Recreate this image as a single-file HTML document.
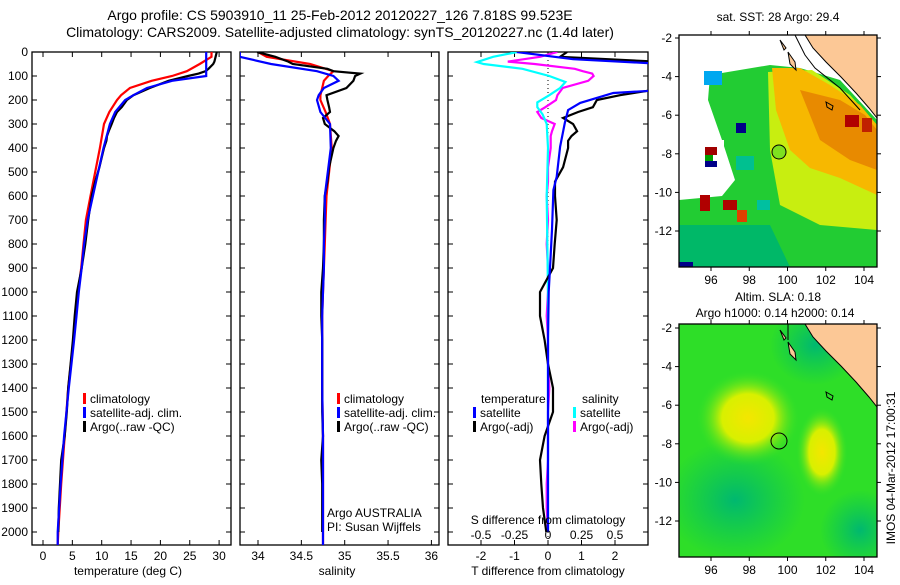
<!DOCTYPE html>
<html><head><meta charset="utf-8">
<style>
body{margin:0;background:#fff;}
svg text{font-family:"Liberation Sans",sans-serif;fill:#000;}
</style></head>
<body>
<svg id="fig" width="900" height="580" viewBox="0 0 900 580" xmlns="http://www.w3.org/2000/svg">
<rect x="0" y="0" width="900" height="580" fill="#fff"/>
<text x="340" y="20" font-size="14" text-anchor="middle">Argo profile: CS 5903910_11 25-Feb-2012 20120227_126 7.818S 99.523E</text>
<text x="340" y="37" font-size="14" text-anchor="middle">Climatology: CARS2009. Satellite-adjusted climatology: synTS_20120227.nc (1.4d later)</text>

<g id="p1"></g>
<g id="p2"></g>
<g id="p3"></g>

<!-- SST map -->
<g>
<text x="778" y="21" font-size="12" text-anchor="middle">sat. SST: 28 Argo: 29.4</text>
<clipPath id="c1"><rect x="679" y="35" width="198" height="232"/></clipPath>
<g clip-path="url(#c1)">
<rect x="679" y="35" width="198" height="232" fill="#fff"/>
<polygon fill="#22cc33" points="710,75 770,65 800,68 840,80 877,120 877,267 679,267 679,200 722,196 735,180 722,140 708,100"/>
<polygon fill="#00b868" points="679,225 770,225 790,267 679,267"/>
<polygon fill="#c8ee10" points="768,72 812,70 850,95 877,125 877,230 820,225 780,205 770,150"/>
<polygon fill="#f7b800" points="772,68 800,68 830,85 860,105 877,125 877,195 840,178 810,168 790,150 776,110"/>
<polygon fill="#e88a00" points="800,90 840,100 865,115 877,130 877,170 850,160 820,140"/>
<rect x="845" y="115" width="14" height="12" fill="#b00000"/>
<rect x="862" y="118" width="10" height="14" fill="#c02000"/>
<rect x="710" y="140" width="14" height="14" fill="#fff"/>
<rect x="704" y="71" width="18" height="14" fill="#00a8f0"/>
<rect x="705" y="147" width="12" height="8" fill="#a00000"/>
<rect x="705" y="155" width="8" height="10" fill="#00a000"/>
<rect x="705" y="161" width="12" height="6" fill="#000088"/>
<rect x="736" y="156" width="18" height="14" fill="#00c090"/>
<rect x="736" y="123" width="10" height="10" fill="#000088"/>
<rect x="700" y="195" width="10" height="16" fill="#b00000"/>
<rect x="723" y="200" width="14" height="10" fill="#b00000"/>
<rect x="737" y="210" width="10" height="12" fill="#e04000"/>
<rect x="679" y="262" width="14" height="5" fill="#000088"/>
<rect x="757" y="200" width="13" height="10" fill="#00c0a0"/>
<polygon fill="#fcc896" points="805,35 813,48 826,62 841,77 856,93 869,108 877,118 877,35"/>
<polyline fill="none" stroke="#000" stroke-width="1" points="805,35 813,48 826,62 841,77 856,93 869,108 877,118"/>
<polyline fill="none" stroke="#000" stroke-width="1" points="795,35 805,55 815,68 840,88 860,110"/>
<polygon fill="#fcc896" stroke="#000" points="780,40 786,48 784,50"/>
<polygon fill="#fcc896" stroke="#000" points="788,52 795,62 796,70 790,64"/>
<polygon fill="none" stroke="#000" points="826,102 833,106 832,110 827,107"/>
<circle cx="779" cy="152" r="7" fill="#7ee020" stroke="#000" stroke-width="1"/>
</g>
<rect x="679" y="35" width="198" height="232" fill="none" stroke="#000" stroke-width="1.3"/>
</g>

<!-- SLA map -->
<g>
<text x="778" y="301" font-size="12" text-anchor="middle">Altim. SLA: 0.18</text>
<text x="775" y="317" font-size="12" text-anchor="middle">Argo h1000: 0.14 h2000: 0.14</text>
<defs>
<radialGradient id="b1"><stop offset="0" stop-color="#f4e600"/><stop offset="0.5" stop-color="#d8f000"/><stop offset="1" stop-color="#2de02a" stop-opacity="0"/></radialGradient>
<radialGradient id="b2"><stop offset="0" stop-color="#00b870"/><stop offset="1" stop-color="#00c060" stop-opacity="0"/></radialGradient>
</defs>
<clipPath id="c2"><rect x="679" y="324" width="198" height="233"/></clipPath>
<g clip-path="url(#c2)">
<rect x="679" y="324" width="198" height="233" fill="#2ede28"/>
<ellipse cx="735" cy="500" rx="70" ry="60" fill="url(#b2)"/>
<ellipse cx="860" cy="530" rx="40" ry="40" fill="url(#b2)"/>
<ellipse cx="815" cy="345" rx="45" ry="40" fill="url(#b2)"/>
<ellipse cx="748" cy="418" rx="52" ry="48" fill="url(#b1)"/>
<ellipse cx="822" cy="452" rx="26" ry="45" fill="url(#b1)"/>
<polygon fill="#fcc896" points="805,324 813,337 826,351 841,366 856,382 869,397 877,407 877,324"/>
<polyline fill="none" stroke="#000" stroke-width="1" points="805,324 813,337 826,351 841,366 856,382 869,397 877,407"/>
<line x1="788" y1="324" x2="788" y2="340" stroke="#000"/>
<polygon fill="#fcc896" stroke="#000" points="780,330 786,338 784,340"/>
<polygon fill="#fcc896" stroke="#000" points="788,342 795,352 796,360 790,354"/>
<polygon fill="none" stroke="#000" points="826,392 833,396 832,400 827,397"/>
<circle cx="779" cy="441" r="8" fill="none" stroke="#000" stroke-width="1"/>
</g>
<rect x="679" y="324" width="198" height="233" fill="none" stroke="#000" stroke-width="1.3"/>
</g>
<g id="maxes"></g>
<text x="0" y="0" font-size="12" text-anchor="middle" transform="translate(895,468) rotate(-90)">IMOS 04-Mar-2012 17:00:31</text>
</svg>
<script>
const NS='http://www.w3.org/2000/svg';
const svg=document.getElementById('fig');
function mk(parent,tag,attrs,txt){const e=document.createElementNS(NS,tag);for(const k in attrs)e.setAttribute(k,attrs[k]);if(txt!==undefined)e.textContent=txt;parent.appendChild(e);return e;}

// ---------- data ----------
const depthTicks=[0,100,200,300,400,500,600,700,800,900,1000,1100,1200,1300,1400,1500,1600,1700,1800,1900,2000];
const tempTicks=[0,5,10,15,20,25,30];
const salTicks=[34,34.5,35,35.5,36];
const salTickLabels=['34','34.5','35','35.5','36'];
const tdTicks=[-2,-1,0,1,2];
const sdTicks=[-0.5,-0.25,0,0.25,0.5];
const sdTickLabels=['-0.5','-0.25','0','0.25','0.5'];

const climDepth=[0,20,50,80,100,120,150,180,200,250,300,400,600,700,800,900,1000,1100,1200,1400,1600,1800,2000,2055];
const climTemp=[28.7,28.7,26.7,24.5,22,18.5,14.8,13.3,12.6,11.3,10.4,9.7,8.1,7.3,6.9,6.5,6.0,5.6,5.2,4.3,3.7,3.1,2.6,2.5];
const satTemp=[27.8,27.8,27.8,27.8,27.8,22,17.7,15.4,14,12.3,11.4,10.3,8.5,7.6,7.0,6.6,6.1,5.7,5.3,4.4,3.6,3.0,2.5,2.5];
const climSal=[34.0,34.1,34.6,34.87,34.81,34.76,34.74,34.72,34.72,34.78,34.83,34.85,34.79,34.78,34.77,34.76,34.75,34.74,34.74,34.74,34.75,34.75,34.75,34.75];
const satSal=[33.79,33.79,34.15,34.68,34.87,34.93,34.76,34.7,34.68,34.72,34.83,34.84,34.77,34.77,34.76,34.76,34.75,34.74,34.74,34.74,34.75,34.75,34.75,34.75];

const argoDepth=[0,20,40,50,70,80,90,100,120,150,180,200,230,250,275,300,330,350,370,400,480,540,600,700,800,900,1000,1100,1200,1300,1400,1500,1600,1700,1800,1900,2000];
const argoTemp=[29.6,29.4,29.2,29,28.2,27.7,26.5,24.7,21.4,18.2,15.4,14.3,13.4,12.6,12.1,11.7,11.2,10.9,10.8,10.4,9.6,8.9,8.3,7.7,7.2,6.6,5.8,5.4,5.1,4.7,4.3,4.05,3.7,3.1,2.9,2.7,2.6];
const argoSal=[33.99,34.2,34.35,34.4,34.8,34.87,35.18,35.12,35.1,35.02,34.79,34.8,34.82,34.83,34.75,34.77,34.88,34.93,34.9,34.87,34.82,34.8,34.77,34.76,34.76,34.75,34.73,34.73,34.74,34.74,34.74,34.74,34.75,34.73,34.74,34.74,34.74];
const argoTdiff=[0.57,0.36,3.2,3.5,3.5,3.5,3.5,3.5,3.5,3.5,2.15,1.46,1.34,0.9,0.45,0.75,0.87,0.7,0.6,0.6,0.45,0.21,0.21,0.26,0.2,0.15,-0.24,-0.24,-0.1,0.0,0.15,0.15,-0.1,-0.24,-0.2,-0.15,-0.05];
const argoSdiff=[0.07,-0.06,-0.3,-0.1,0.2,0.26,0.33,0.34,0.3,0.11,0.07,0.06,-0.02,-0.08,-0.05,0.05,0.03,0.02,0.02,0.02,0.0,0.0,-0.01,0.0,-0.01,0.0,0.0,-0.01,0.0,0.0,0.01,0.0,0.0,0.0,-0.01,-0.01,0.0];

const satDiffDepth=[0,30,50,100,150,158,171,212,242,296,395,520,575,740,900,1000,1200,1400,1600,1800,2000];
const satTdiff=[-0.93,0.75,3.5,3.5,3.5,3.5,1.95,0.96,0.6,0.5,0.36,0.26,0.16,0.12,0.06,0.02,0.0,0.0,0.0,0.0,0.0];
const satSdiffDepth=[0,20,42,50,70,100,125,150,180,210,230,260,300,400,600,1000,1400,2000];
const satSdiff=[-0.23,-0.41,-0.53,-0.48,-0.19,0.01,0.13,0.09,0.01,-0.08,-0.08,-0.04,-0.01,0.0,-0.01,0.0,0.0,0.0];

const mapLonTicks=[96,98,100,102,104];
const mapLatTicks=[-2,-4,-6,-8,-10,-12];

// ---------- scales ----------
const yD=d=>52+d*0.24;
const xT=t=>43+t*5.87;
const xS=s=>258+(s-34)*86.7;
const xTd=t=>548+t*33.5;
const xSd=s=>548+s*134;
const TOP=52,BOT=545;

function panel(g,x0,x1,ticksX,fx,labels,ytickLabels){
  mk(g,'rect',{x:x0,y:TOP,width:x1-x0,height:BOT-TOP,fill:'#fff',stroke:'#000','stroke-width':1.3});
  ticksX.forEach((t,i)=>{const x=fx(t);
    mk(g,'line',{x1:x,x2:x,y1:TOP,y2:TOP+5,stroke:'#000'});
    mk(g,'line',{x1:x,x2:x,y1:BOT,y2:BOT-5,stroke:'#000'});
    if(labels){const tx=mk(g,'text',{x:x,y:BOT+15,'font-size':12,'text-anchor':'middle'},labels[i]);
      
      }
  });
  depthTicks.forEach(d=>{const y=yD(d);
    mk(g,'line',{x1:x0,x2:x0+5,y1:y,y2:y,stroke:'#000'});
    mk(g,'line',{x1:x1,x2:x1-5,y1:y,y2:y,stroke:'#000'});
    if(ytickLabels){const tx=mk(g,'text',{x:x0-4,y:y+4,'font-size':12,'text-anchor':'end'},String(d));
      
      }
  });
}
function line(g,xs,ds,fx,col,name,clipId){
  const pts=xs.map((v,i)=>fx(v).toFixed(1)+','+yD(ds[i]).toFixed(1)).join(' ');
  const p=mk(g,'polyline',{points:pts,fill:'none',stroke:col,'stroke-width':2.2,'clip-path':'url(#'+clipId+')'});
  
  
}
function clip(id,x0,x1){const c=mk(svg,'clipPath',{id:id});mk(c,'rect',{x:x0,y:TOP,width:x1-x0,height:BOT-TOP});}
function legend(g,x,y,col,label){
  mk(g,'rect',{x:x,y:y-10,width:3,height:11,fill:col});
  const t=mk(g,'text',{x:x+7,y:y,'font-size':12},label);
  
  
}

// panel 1
const p1=document.getElementById('p1');
clip('cp1',32,231);
panel(p1,32,231,tempTicks,xT,tempTicks.map(String),true);
line(p1,climTemp,climDepth,xT,'#ff0000','clim-temp-line','cp1');
line(p1,argoTemp,argoDepth,xT,'#000000','argo-temp-line','cp1');
line(p1,satTemp,climDepth,xT,'#0000ff','sat-temp-line','cp1');
legend(p1,83,403,'#ff0000','climatology');
legend(p1,83,417,'#0000ff','satellite-adj. clim.');
legend(p1,83,431,'#000000','Argo(..raw -QC)');
const xl1=mk(p1,'text',{x:128,y:575,'font-size':12,'text-anchor':'middle'},'temperature (deg C)');


// panel 2
const p2=document.getElementById('p2');
clip('cp2',240,439);
panel(p2,240,439,salTicks,xS,salTickLabels,false);
line(p2,climSal,climDepth,xS,'#ff0000','clim-sal-line','cp2');
line(p2,argoSal,argoDepth,xS,'#000000','argo-sal-line','cp2');
line(p2,satSal,climDepth,xS,'#0000ff','sat-sal-line','cp2');
legend(p2,337,403,'#ff0000','climatology');
legend(p2,337,417,'#0000ff','satellite-adj. clim.');
legend(p2,337,431,'#000000','Argo(..raw -QC)');
const ag=mk(p2,'text',{x:327,y:517,'font-size':12},'Argo AUSTRALIA');
const pi=mk(p2,'text',{x:327,y:531,'font-size':12},'PI: Susan Wijffels');
const xl2=mk(p2,'text',{x:337,y:575,'font-size':12,'text-anchor':'middle'},'salinity');


// panel 3
const p3=document.getElementById('p3');
clip('cp3',448,648);
panel(p3,448,648,tdTicks,xTd,tdTicks.map(String),false);
mk(p3,'line',{x1:548,x2:548,y1:TOP,y2:BOT,stroke:'#000','stroke-dasharray':'1,3'});
line(p3,argoSdiff,argoDepth,xSd,'#ff00ff','argo-sdiff-line','cp3');
line(p3,satSdiff,satSdiffDepth,xSd,'#00ffff','sat-sdiff-line','cp3');
line(p3,argoTdiff,argoDepth,xTd,'#000000','argo-tdiff-line','cp3');
line(p3,satTdiff,satDiffDepth,xTd,'#0000ff','sat-tdiff-line','cp3');
const lt=mk(p3,'text',{x:481,y:403,'font-size':12},'temperature');
const ls=mk(p3,'text',{x:582,y:403,'font-size':12},'salinity');
legend(p3,473,417,'#0000ff','satellite');
legend(p3,473,431,'#000000','Argo(-adj)');
legend(p3,573,417,'#00ffff','satellite');
legend(p3,573,431,'#ff00ff','Argo(-adj)');
const st=mk(p3,'text',{x:548,y:524,'font-size':12,'text-anchor':'middle'},'S difference from climatology');
sdTicks.forEach((s,i)=>{const t=mk(p3,'text',{x:xSd(s),y:539,'font-size':12,'text-anchor':'middle'},sdTickLabels[i]);
  
  });
const tt=mk(p3,'text',{x:548,y:575,'font-size':12,'text-anchor':'middle'},'T difference from climatology');

// map axes
const ma=document.getElementById('maxes');
const lonX=l=>711+(l-96)*19.125;
[[35,267,38],[324,557,328]].forEach(([t,b,y2])=>{
  mapLonTicks.forEach(l=>{const x=lonX(l);
    mk(ma,'line',{x1:x,x2:x,y1:t,y2:t-4,stroke:'#000'});
    mk(ma,'line',{x1:x,x2:x,y1:b,y2:b+4,stroke:'#000'});
    const tx=mk(ma,'text',{x:x,y:b+17,'font-size':12,'text-anchor':'middle'},String(l));
    
    });
  mapLatTicks.forEach(la=>{const y=y2+(-2-la)*19.3;
    mk(ma,'line',{x1:679,x2:675,y1:y,y2:y,stroke:'#000'});
    mk(ma,'line',{x1:877,x2:881,y1:y,y2:y,stroke:'#000'});
    const tx=mk(ma,'text',{x:672,y:y+4,'font-size':12,'text-anchor':'end'},String(la));
    
    });
});
</script>
</body></html>
